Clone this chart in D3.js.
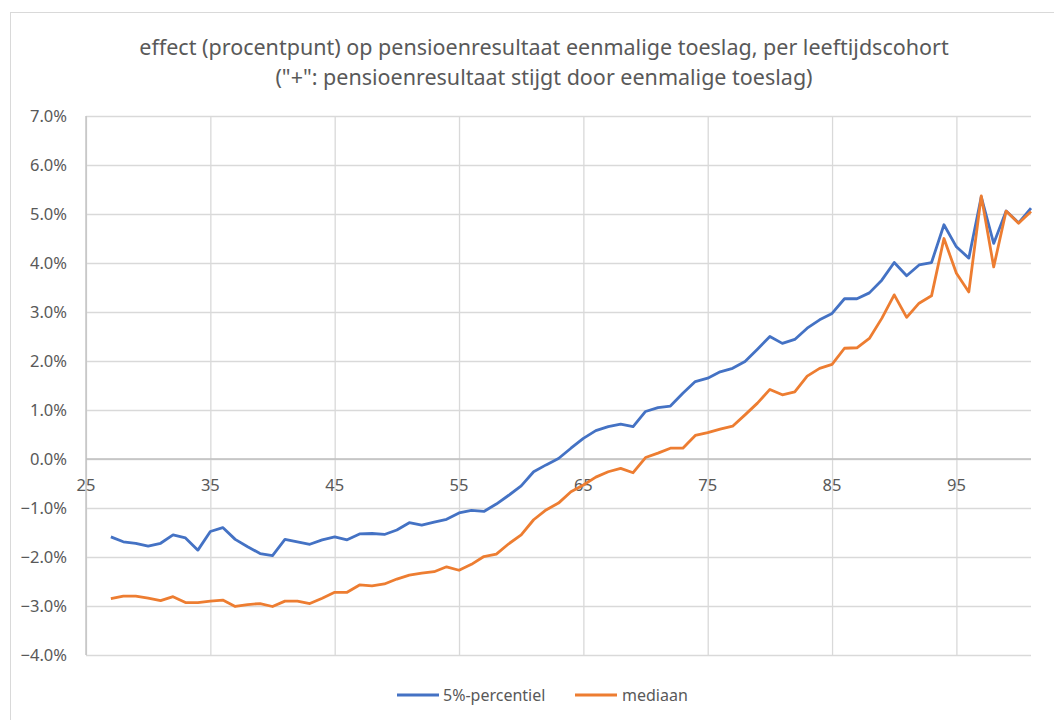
<!DOCTYPE html>
<html>
<head>
<meta charset="utf-8">
<script src="https://cdn.jsdelivr.net/npm/d3@7"></script>
<style>
  html, body { margin: 0; padding: 0; background: #fff; }
  svg { display: block; font-family: "Noto Sans", "Open Sans", sans-serif; }
</style>
</head>
<body>
<div id="chart"></div>
<script>
// ------------------------------------------------------------
//  Data
// ------------------------------------------------------------
const TITLE_LINES = [
    "effect (procentpunt) op pensioenresultaat eenmalige toeslag, per leeftijdscohort",
    "(\"+\": pensioenresultaat stijgt door eenmalige toeslag)"
];

const AGES = [
    27, 28, 29, 30, 31, 32, 33, 34, 35, 36, 37, 38, 39, 40, 41, 42, 43, 44, 45, 46,
    47, 48, 49, 50, 51, 52, 53, 54, 55, 56, 57, 58, 59, 60, 61, 62, 63, 64, 65, 66,
    67, 68, 69, 70, 71, 72, 73, 74, 75, 76, 77, 78, 79, 80, 81, 82, 83, 84, 85, 86,
    87, 88, 89, 90, 91, 92, 93, 94, 95, 96, 97, 98, 99, 100, 101
];

// values in percent points
const PERCENTIEL_5 = [
    -1.59, -1.69, -1.72, -1.78, -1.72, -1.55, -1.61, -1.86, -1.48, -1.40,
    -1.64, -1.79, -1.93, -1.97, -1.64, -1.69, -1.74, -1.65, -1.59, -1.65,
    -1.53, -1.52, -1.54, -1.45, -1.30, -1.35, -1.29, -1.23, -1.10, -1.05,
    -1.07, -0.92, -0.74, -0.55, -0.26, -0.12, 0.01, 0.22, 0.42, 0.58,
    0.66, 0.71, 0.66, 0.97, 1.05, 1.08, 1.34, 1.58, 1.65, 1.78,
    1.85, 1.99, 2.24, 2.50, 2.36, 2.44, 2.67, 2.84, 2.97, 3.27,
    3.27, 3.39, 3.65, 4.01, 3.74, 3.96, 4.01, 4.78, 4.33, 4.10,
    5.35, 4.40, 5.06, 4.82, 5.12
];

const MEDIAAN = [
    -2.85, -2.80, -2.80, -2.84, -2.89, -2.81, -2.93, -2.93, -2.90, -2.88,
    -3.01, -2.97, -2.95, -3.01, -2.90, -2.90, -2.95, -2.84, -2.72, -2.72,
    -2.57, -2.59, -2.55, -2.45, -2.37, -2.33, -2.30, -2.20, -2.27, -2.15,
    -1.99, -1.94, -1.73, -1.55, -1.24, -1.04, -0.90, -0.67, -0.53, -0.37,
    -0.26, -0.19, -0.28, 0.03, 0.12, 0.22, 0.22, 0.48, 0.54, 0.61,
    0.67, 0.90, 1.14, 1.42, 1.31, 1.37, 1.69, 1.85, 1.93, 2.26,
    2.27, 2.46, 2.87, 3.35, 2.89, 3.18, 3.33, 4.50, 3.79, 3.41,
    5.37, 3.92, 5.06, 4.81, 5.05
];

const SERIES_NAMES = ["5%-percentiel", "mediaan"];
const X_TICKS = [25, 35, 45, 55, 65, 75, 85, 95];
const Y_TICKS = [-4, -3, -2, -1, 0, 1, 2, 3, 4, 5, 6, 7];

// ------------------------------------------------------------
//  Configuration
// ------------------------------------------------------------
const CONFIG = {
    WIDTH: 1054,
    HEIGHT: 720,
    PLOT: { LEFT: 86, RIGHT: 1031, TOP: 116, BOTTOM: 655 },
    X_DOMAIN: [25, 101],
    Y_DOMAIN: [-4, 7],
    COLORS: ["#4472c4", "#ed7d31"],
    LINE_WIDTH: 2.8,
    GRID_COLOR: "#d9d9d9",
    AXIS_COLOR: "#bfbfbf",
    TEXT_COLOR: "#595959",
    TICK_FONT: "16.5px",
    TITLE_FONT: "21.5px",
    LEGEND_FONT: "16px",
};

const svg = d3.select("#chart").append("svg")
    .attr("width", CONFIG.WIDTH)
    .attr("height", CONFIG.HEIGHT);

// chart area border
svg.append("rect")
    .attr("x", 10.5).attr("y", 12.5)
    .attr("width", CONFIG.WIDTH).attr("height", CONFIG.HEIGHT)
    .attr("fill", "#fff")
    .attr("stroke", "#d9d9d9");

// --- Scales ---
const x = d3.scaleLinear().domain(CONFIG.X_DOMAIN).range([CONFIG.PLOT.LEFT, CONFIG.PLOT.RIGHT]);
const y = d3.scaleLinear().domain(CONFIG.Y_DOMAIN).range([CONFIG.PLOT.BOTTOM, CONFIG.PLOT.TOP]);

// --- Gridlines ---
svg.append("g")
    .attr("transform", `translate(0, ${CONFIG.PLOT.BOTTOM})`)
    .call(d3.axisBottom(x).tickValues(X_TICKS).tickSize(-(CONFIG.PLOT.BOTTOM - CONFIG.PLOT.TOP)).tickFormat(""))
    .call(g => g.select(".domain").remove())
    .call(g => g.selectAll(".tick line").attr("stroke", CONFIG.GRID_COLOR).attr("stroke-width", 1.3));

svg.append("g")
    .attr("transform", `translate(${CONFIG.PLOT.LEFT}, 0)`)
    .call(d3.axisLeft(y).tickValues(Y_TICKS).tickSize(-(CONFIG.PLOT.RIGHT - CONFIG.PLOT.LEFT)).tickFormat(""))
    .call(g => g.select(".domain").remove())
    .call(g => g.selectAll(".tick line").attr("stroke", CONFIG.GRID_COLOR).attr("stroke-width", 1.3));

// --- Axes lines ---
svg.append("line")
    .attr("x1", CONFIG.PLOT.LEFT).attr("x2", CONFIG.PLOT.LEFT)
    .attr("y1", CONFIG.PLOT.TOP).attr("y2", CONFIG.PLOT.BOTTOM)
    .attr("stroke", CONFIG.AXIS_COLOR).attr("stroke-width", 1.3);

svg.append("line")
    .attr("x1", CONFIG.PLOT.LEFT).attr("x2", CONFIG.PLOT.RIGHT)
    .attr("y1", y(0)).attr("y2", y(0))
    .attr("stroke", CONFIG.AXIS_COLOR).attr("stroke-width", 1.3);

// --- Y labels ---
svg.append("g")
    .selectAll("text")
    .data(Y_TICKS)
    .join("text")
    .attr("x", 67)
    .attr("y", d => y(d))
    .attr("dy", "0.36em")
    .attr("text-anchor", "end")
    .attr("fill", CONFIG.TEXT_COLOR)
    .style("font-size", CONFIG.TICK_FONT)
    .text(d => d3.format(".1f")(d) + "%");

// --- X labels (sit under the 0 line) ---
svg.append("g")
    .selectAll("text")
    .data(X_TICKS)
    .join("text")
    .attr("x", d => x(d))
    .attr("y", y(0) + 26)
    .attr("dy", "0.36em")
    .attr("text-anchor", "middle")
    .attr("fill", CONFIG.TEXT_COLOR)
    .style("font-size", CONFIG.TICK_FONT)
    .text(d => d);

// --- Lines ---
const line = d3.line()
    .x(d => x(d.age))
    .y(d => y(d.value));

[PERCENTIEL_5, MEDIAAN].forEach((values, i) => {
    const points = AGES.map((age, j) => ({ age, value: values[j] }));
    svg.append("path")
        .datum(points)
        .attr("fill", "none")
        .attr("stroke", CONFIG.COLORS[i])
        .attr("stroke-width", CONFIG.LINE_WIDTH)
        .attr("stroke-linejoin", "round")
        .attr("d", line);
});

// --- Title ---
svg.append("g")
    .selectAll("text")
    .data(TITLE_LINES)
    .join("text")
    .attr("x", 544)
    .attr("y", (d, i) => 47 + i * 30)
    .attr("dy", "0.36em")
    .attr("text-anchor", "middle")
    .attr("fill", CONFIG.TEXT_COLOR)
    .style("font-size", CONFIG.TITLE_FONT)
    .text(d => d);

// --- Legend ---
const legendItems = [
    { x: 397, textX: 443 },
    { x: 575, textX: 622 },
];
const legend = svg.append("g");
legendItems.forEach((item, i) => {
    legend.append("line")
        .attr("x1", item.x).attr("x2", item.x + 42)
        .attr("y1", 695).attr("y2", 695)
        .attr("stroke", CONFIG.COLORS[i])
        .attr("stroke-width", CONFIG.LINE_WIDTH);
    legend.append("text")
        .attr("x", item.textX)
        .attr("y", 695)
        .attr("dy", "0.36em")
        .attr("fill", CONFIG.TEXT_COLOR)
        .style("font-size", CONFIG.LEGEND_FONT)
        .text(SERIES_NAMES[i]);
});
</script>
</body>
</html>
